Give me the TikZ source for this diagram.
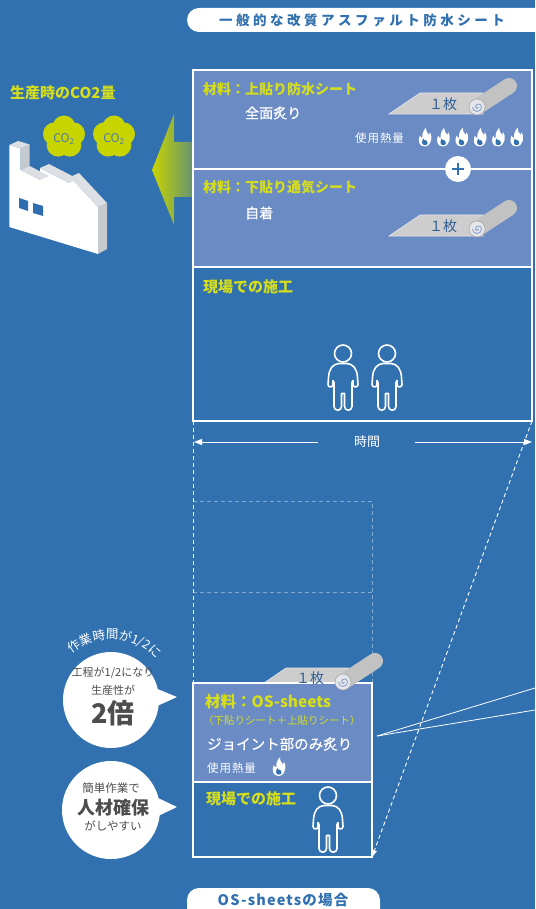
\documentclass[tikz,border=0pt]{standalone}
\usepackage{fontspec}
\setmainfont{Noto Sans CJK JP}
\usetikzlibrary{arrows.meta,calc,decorations.text}

\definecolor{cBg}{HTML}{3171B0}
\definecolor{cPanel}{HTML}{6A8BC4}
\definecolor{cYel}{HTML}{D6DE1C}
\definecolor{cCloud}{HTML}{C8D400}
\definecolor{cCoTxt}{HTML}{4A7AAE}
\definecolor{cSheet}{HTML}{CDCDCD}
\definecolor{cTube}{HTML}{C2C2C2}
\definecolor{cEnd}{HTML}{E4E6EA}
\definecolor{cSpiral}{HTML}{8EA6CC}
\definecolor{cNum}{HTML}{2F5F97}
\definecolor{cInk}{HTML}{4D4D4D}
\definecolor{cRoof}{HTML}{DCDFE3}
\definecolor{cSide}{HTML}{C6CACF}
\definecolor{cWin}{HTML}{2E6DB0}

\newcommand{\fs}[1]{\fontsize{#1}{#1}\selectfont}

\tikzset{
  lbl/.style={text=cYel, anchor=west, inner sep=0, font=\fs{14}\bfseries},
  note/.style={text=white, anchor=west, inner sep=0, font=\fs{14}\addfontfeature{FakeBold=0.6}},
  small/.style={text=white, anchor=west, inner sep=0, font=\fs{11.5}\addfontfeature{LetterSpace=8}},
  ink/.style={text=cInk, inner sep=0},
  frame/.style={draw=white, line width=1.5pt},
  guide/.style={draw=white, line width=0.9pt, dash pattern=on 4pt off 3pt},
  ghost/.style={draw=white, draw opacity=0.4, line width=1pt, dash pattern=on 4pt off 3pt},
  tip/.style={-{Triangle[length=8pt,width=6pt]}},
  person/.pic={
    \draw[white, line width=1.6pt] (0,0) circle[radius=8.5];
    \draw[white, line width=1.6pt, line join=round]
      (-4,10) .. controls (-10,10.5) and (-14,15) .. (-14.5,24)
      -- (-15,31) arc[start angle=180, end angle=0, radius=2.5]
      -- (-10,27) -- (-9,29) -- (-9,53) arc[start angle=180, end angle=0, radius=3.75]
      -- (-1.5,40) -- (1.5,40) -- (1.5,53) arc[start angle=180, end angle=0, radius=3.75]
      -- (9,29) -- (10,27) -- (10,31) arc[start angle=180, end angle=0, radius=2.5]
      -- (14.5,24) .. controls (14,15) and (10,10.5) .. (4,10) -- cycle;
  },
  flame/.pic={
    \fill[white] (0,0) .. controls (-5.5,0) and (-6.5,-5) .. (-4.5,-9.5)
      .. controls (-4,-8) and (-3,-7.5) .. (-2.2,-7.5)
      .. controls (-3,-11) and (-1,-14.5) .. (1,-16.5)
      .. controls (0.5,-13) and (2.5,-11.5) .. (3.5,-10)
      .. controls (4.2,-10.5) and (4.5,-11.5) .. (4.3,-12.5)
      .. controls (6.5,-9.5) and (6.5,-1) .. (0,0) -- cycle;
    \fill[cBg] (0,-1.2) .. controls (-2.8,-1.2) and (-3.2,-4) .. (-1.5,-7)
      .. controls (-1.2,-5.5) and (0,-5) .. (0.8,-5.5)
      .. controls (2.8,-4) and (2.8,-1.2) .. (0,-1.2) -- cycle;
  },
  rollsheet/.pic={
    \fill[cSheet, draw=cEnd, line width=0.6pt] (-88,7) -- (-57,-14) -- (6,-14) -- (6,7) -- cycle;
  },
  rolltube/.pic={
    \draw[cTube, line width=16pt, line cap=round] (0,0) -- (32,-21);
    \fill[cEnd, draw=cTube!80!black, line width=0.4pt] (0,0) circle[radius=8];
    \draw[cSpiral, line width=0.9pt] (1.5,0) arc[start angle=0, end angle=180, radius=1.5]
      arc[start angle=180, end angle=360, radius=3]
      arc[start angle=0, end angle=180, radius=4.5];
  },
}

\begin{document}
\begin{tikzpicture}[x=1pt, y=-1pt]
\useasboundingbox (0,0) rectangle (535,909);
\clip (0,0) rectangle (535,909);
\fill[cBg] (0,0) rectangle (535,909);

% ---- heading pills ----
\fill[white, rounded corners=12pt] (187,8) rectangle (580,32);
\node[text=cBg, inner sep=0, font=\fs{13.5}\bfseries\addfontfeature{LetterSpace=26}] (headA) at (362,20) {一般的な改質アスファルト防水シート};
\fill[white, rounded corners=12pt] (187,888) rectangle (380,930);
\node[text=cBg, inner sep=0, font=\fs{14.5}\bfseries\addfontfeature{LetterSpace=8}] (headB) at (283,900) {OS-sheetsの場合};

% ---- factory and CO2 ----
\node[lbl, font=\fs{15}\bfseries] (co2title) at (10,93) {生産時のCO2量};
\foreach \cx/\nm in {64/cloudA, 114/cloudB}{
  \fill[cCloud, shift={(\cx,137)}] (0,0) circle[radius=12]
    foreach \a in {270,342,54,126,198}{ (\a:10) circle[radius=11.5] };
  \node[text=cCoTxt, inner sep=0, font=\fs{12}] (\nm) at (\cx,139) {CO\textsubscript{2}};
}
% front face
\fill[white] (9.3,145) -- (20.7,148.5) -- (20.7,170) -- (40,180) -- (40,168) -- (69,183)
  -- (70,177) -- (98,207) -- (98,254) -- (9.3,227) -- cycle;
% side and roof faces
\fill[cSide] (98,207) -- (107,203) -- (107,249) -- (98,254) -- cycle;
\fill[cSide] (20.7,148.5) -- (29.7,144.5) -- (29.7,166) -- (20.7,170) -- cycle;
\fill[cRoof] (9.3,145) -- (20.7,148.5) -- (29.7,144.5) -- (18.3,141) -- cycle;
\fill[cRoof] (20.7,170) -- (40,180) -- (49,176) -- (29.7,166) -- cycle;
\fill[cRoof] (40,168) -- (69,183) -- (78,179) -- (49,164) -- cycle;
\fill[cRoof] (70,177) -- (98,207) -- (107,203) -- (79,173) -- cycle;
\fill[cWin] (19,198) -- (28,201) -- (28,211) -- (19,208) -- cycle;
\fill[cWin] (33,203) -- (43,206) -- (43,216) -- (33,213) -- cycle;

% big arrow toward the factory
\shade[left color=cCloud, right color=cBg] (152,170) -- (174,114) -- (174,142) -- (215,142)
  -- (215,197) -- (174,197) -- (174,225) -- cycle;

% ---- conventional method ----
\fill[cPanel] (193,70) rectangle (532,267);
\fill[cBg] (193,267) rectangle (532,421);
\draw[frame] (193,70) rectangle (532,421);
\draw[frame] (193,169) -- (532,169);
\draw[frame] (193,267) -- (532,267);
\coordinate (topBL) at (193,421);
\coordinate (topBR) at (532,421);

\node[lbl] (matA) at (203,89) {材料：上貼り防水シート};
\node[note] (fullA) at (245,113) {全面炙り};
\pic at (477,107) {rollsheet};
\pic at (477,107) {rolltube};
\node[text=cNum, inner sep=0, font=\fs{14}] (cntA) at (443,104) {１枚};
\node[small] (heatA) at (355,138) {使用熱量};
\foreach \fx in {425,443.3,461.7,480,498.3,516.7}{ \pic[scale=1.15] at (\fx,146.5) {flame}; }

\node[circle, fill=white, minimum size=26pt, inner sep=0] (plus) at (458,169) {};
\draw[cBg, line width=1.6pt] ([xshift=-6pt]plus.center) -- ([xshift=6pt]plus.center);
\draw[cBg, line width=1.6pt] ([yshift=-6pt]plus.center) -- ([yshift=6pt]plus.center);

\node[lbl] (matB) at (203,187) {材料：下貼り通気シート};
\node[note] (selfB) at (245,213) {自着};
\pic at (477,229) {rollsheet};
\pic at (477,229) {rolltube};
\node[text=cNum, inner sep=0, font=\fs{14}] (cntB) at (443,226) {１枚};

\node[lbl, font=\fs{15}\bfseries] (siteA) at (203,287) {現場での施工};
\pic at (343,353.5) {person};
\pic at (387,353.5) {person};

% time axis
\node[text=white, inner sep=0, font=\fs{13}] (time) at (367,442) {時間};
\coordinate (tL) at (194,442);
\coordinate (tR) at (532,442);
\coordinate (tLs) at (318,442);
\coordinate (tRs) at (415,442);
\draw[white, line width=1pt, tip] (tLs) -- (tL);
\draw[white, line width=1pt, tip] (tRs) -- (tR);

% ---- OS-sheets method ----
\coordinate (lowTL) at (193,683);
\coordinate (lowBR) at (372,857);
\draw[ghost] (193,501) -- (372,501) -- (372,683);
\draw[ghost] (193,592) -- (372,592);
\draw[guide] (topBL) -- (lowTL);
\draw[guide, -{Triangle[length=7pt,width=5pt]}] (topBR) -- (lowBR);

\pic at (343,682) {rollsheet};
\fill[cPanel] (193,683) rectangle (372,782);
\draw[frame] (193,683) rectangle (372,857);
\draw[frame] (193,782) -- (372,782);
\pic at (343,682) {rolltube};
\node[text=cNum, inner sep=0, font=\fs{14}] (cntC) at (310,678) {１枚};

\node[lbl, font=\fs{15.5}\bfseries] (matC) at (205,702) {材料：OS-sheets};
\node[text=cYel, anchor=west, inner sep=0, font=\fs{10.5}] (matCsub) at (203,721) {（下貼りシート＋上貼りシート）};
\node[note, font=\fs{14.5}\addfontfeature{FakeBold=0.6}] (jointC) at (207,744) {ジョイント部のみ炙り};
\node[small] (heatC) at (207,768) {使用熱量};
\pic[scale=1.15] at (279,776) {flame};
\node[lbl, font=\fs{15}\bfseries] (siteC) at (206,799) {現場での施工};
\pic at (328,795.5) {person};

% fan lines toward the right
\coordinate (fan) at (377,736);
\coordinate (fanA) at (535,688);
\coordinate (fanB) at (535,710);
\draw[white, line width=0.8pt] (fan) -- (fanA);
\draw[white, line width=0.8pt] (fan) -- (fanB);

% ---- speech bubbles ----
\fill[white] (111,700) circle[radius=48];
\fill[white] (155,688) -- (177,697) -- (155,707) -- cycle;
\path[decorate, decoration={text along path, text align=center, text color=white,
    text={|\fs{12.5}|作業時間が1/2に}}]
  (111,700) ++(-132:61) arc[start angle=-132, end angle=-40, radius=61];
\node[ink, font=\fs{11}] (b1a) at (113,673) {工程が1/2になり};
\node[ink, font=\fs{11}] (b1b) at (113,690) {生産性が};
\node[ink, font=\fs{27}\bfseries] (b1c) at (113,713) {2倍};

\fill[white] (111,810) circle[radius=49];
\fill[white] (156,797) -- (177,807) -- (156,817) -- cycle;
\node[ink, font=\fs{11.5}] (b2a) at (111,788) {簡単作業で};
\node[ink, font=\fs{18}\bfseries] (b2b) at (113,808) {人材確保};
\node[ink, font=\fs{11.5}] (b2c) at (113,826) {がしやすい};
\end{tikzpicture}
\end{document}
